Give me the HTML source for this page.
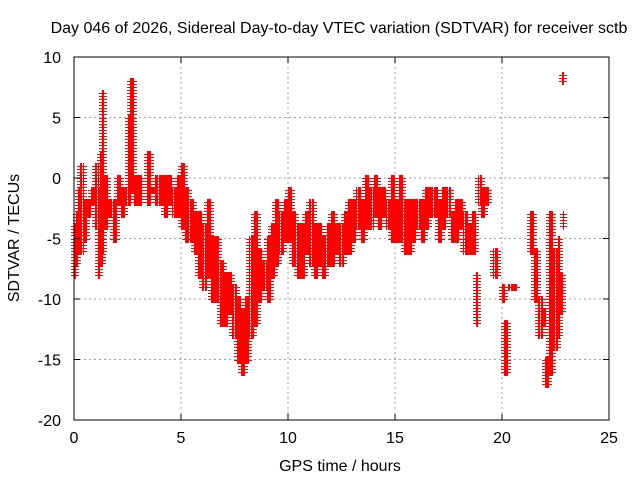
<!DOCTYPE html>
<html><head><meta charset="utf-8"><style>
body{margin:0;background:#fff;}
svg text{font-family:"Liberation Sans",sans-serif;font-size:16px;fill:#000;}
</style></head><body>
<svg id="chart" width="640" height="480" xmlns="http://www.w3.org/2000/svg">
<rect width="640" height="480" fill="#fff"/>
<text x="339" y="33" text-anchor="middle">Day 046 of 2026, Sidereal Day-to-day VTEC variation (SDTVAR) for receiver sctb</text>
<g id="grid"></g>
<g id="marks"></g>
<g id="axes"></g>
<text x="340" y="471" text-anchor="middle">GPS time / hours</text>
<text transform="translate(19,238) rotate(-90)" text-anchor="middle">SDTVAR / TECUs</text>
</svg>
<script>
const xTicks=[0,5,10,15,20,25];
const yTicks=[10,5,0,-5,-10,-15,-20];
const times=[0,0.1,0.2,0.3,0.4,0.6,0.8,1.0,1.1,1.2,1.3,1.4,1.6,1.8,2.0,2.2,2.4,2.5,2.6,2.8,3.0,3.4,3.6,3.8,4.0,4.2,4.4,4.6,4.8,5.0,5.2,5.4,5.6,5.8,6.0,6.2,6.4,6.6,6.8,7.0,7.2,7.4,7.6,7.8,8.0,8.2,8.4,8.6,8.8,9.0,9.2,9.4,9.6,9.8,10.0,10.2,10.4,10.6,10.8,11.0,11.2,11.4,11.6,11.8,12.0,12.2,12.4,12.6,12.8,13.0,13.2,13.4,13.6,13.8,14.0,14.2,14.4,14.6,14.8,15.0,15.2,15.4,15.6,15.8,16.0,16.2,16.4,16.6,16.8,17.0,17.2,17.4,17.6,17.8,18.0,18.2,18.4,18.6,18.8,18.9,19.0,19.2,19.6,20.0,20.1,20.3,20.5,21.3,21.5,21.7,21.9,22.0,22.2,22.4,22.6,22.7,22.8,22.85];
const lows=[-8,-7,-6,-6,-5,-3,-2,-4,-8,-7,-6,-4,-3,-5,-2,-3,-2,-2,-1,-2,-2,-2,-1,-2,-2,-3,-2,-3,-3,-4,-5,-5,-6,-8,-9,-8,-10,-10,-12,-12,-11,-13,-15,-16,-15,-13,-12,-10,-9,-10,-8,-7,-6,-5,-5,-7,-8,-8,-6,-7,-8,-7,-8,-7,-7,-6,-7,-6,-6,-5,-4,-5,-4,-4,-3,-4,-3,-4,-5,-5,-5,-6,-6,-5,-4,-5,-4,-3,-3,-5,-4,-3,-5,-5,-4,-6,-6,-6,-12,-2,-3,-2,-8,-10,-16,-9,-9,-6,-10,-13,-12,-17,-16,-14,-13,-11,8,-4];
const highs=[-4,-3,-1,1,-2,-2,-1,1,-1,2,7,0,-2,-2,0,-1,-1,5,8,0,0,2,-1,0,0,0,0,-1,0,1,-1,-2,-3,-3,-4,-2,-5,-5,-7,-8,-8,-9,-10,-11,-10,-5,-3,-6,-7,-5,-4,-2,-3,-2,-1,-3,-4,-4,-3,-2,-4,-4,-5,-4,-3,-4,-4,-3,-2,-2,-1,-2,0,-1,0,-1,-1,-2,0,-2,0,-2,-2,-2,-2,-2,-1,-1,-1,-2,-1,-1,-3,-2,-2,-3,-4,-3,-8,0,-1,-1,-6,-9,-12,-9,-9,-3,-6,-10,-11,-15,-3,-6,-5,-8,8.5,-3];
const L=74,R=609,T=57,B=420;
const xS=t=>L+(t-0)/25*(R-L);
const yS=v=>T+(10-v)/30*(B-T);
const NS='http://www.w3.org/2000/svg';
function mk(tag,attrs,parent){const e=document.createElementNS(NS,tag);for(const k in attrs)e.setAttribute(k,attrs[k]);parent.appendChild(e);return e;}
const grid=document.getElementById('grid'),axes=document.getElementById('axes'),marks=document.getElementById('marks');
xTicks.forEach(t=>{
  const x=xS(t);
  if(t>0&&t<25){const g=mk('line',{x1:x,y1:T,x2:x,y2:B,stroke:'#a0a0a0','stroke-dasharray':'2,3'},grid);
  
  }
  mk('line',{x1:x,y1:B,x2:x,y2:B-6,stroke:'#000'},axes);
  mk('line',{x1:x,y1:T,x2:x,y2:T+6,stroke:'#000'},axes);
  const lb=mk('text',{x:x,y:B+23,'text-anchor':'middle'},axes);lb.textContent=t;
  
  
});
yTicks.forEach(v=>{
  const y=yS(v);
  if(v>-20&&v<10){const g=mk('line',{x1:L,y1:y,x2:R,y2:y,stroke:'#a0a0a0','stroke-dasharray':'2,3'},grid);
  
  }
  mk('line',{x1:L,y1:y,x2:L+6,y2:y,stroke:'#000'},axes);
  mk('line',{x1:R,y1:y,x2:R-6,y2:y,stroke:'#000'},axes);
  const lb=mk('text',{x:L-13,y:y+6,'text-anchor':'end'},axes);lb.textContent=v;
  
  
});
mk('rect',{x:L,y:T,width:R-L,height:B-T,fill:'none',stroke:'#000'},axes);
let d='';
times.forEach((t,i)=>{
  const lo=lows[i],hi=highs[i];
  let span=i<times.length-1?Math.min(times[i+1]-t,0.2):0.05;
  if(span<0.05)span=0.05;
  for(let dt=0;dt<span;dt+=0.05){
    const x=Math.round(xS(t+dt));
    for(let v=lo;v<=hi+0.001;v+=0.25){
      const y=Math.round(yS(v));
      d+=`M${x-3},${y}h7v1h-7zM${x},${y-3}h1v7h-1z`;
    }
  }
});
const p=mk('path',{d:d,fill:'#ff0000','fill-rule':'nonzero','shape-rendering':'crispEdges'},marks);


</script>
</body></html>
